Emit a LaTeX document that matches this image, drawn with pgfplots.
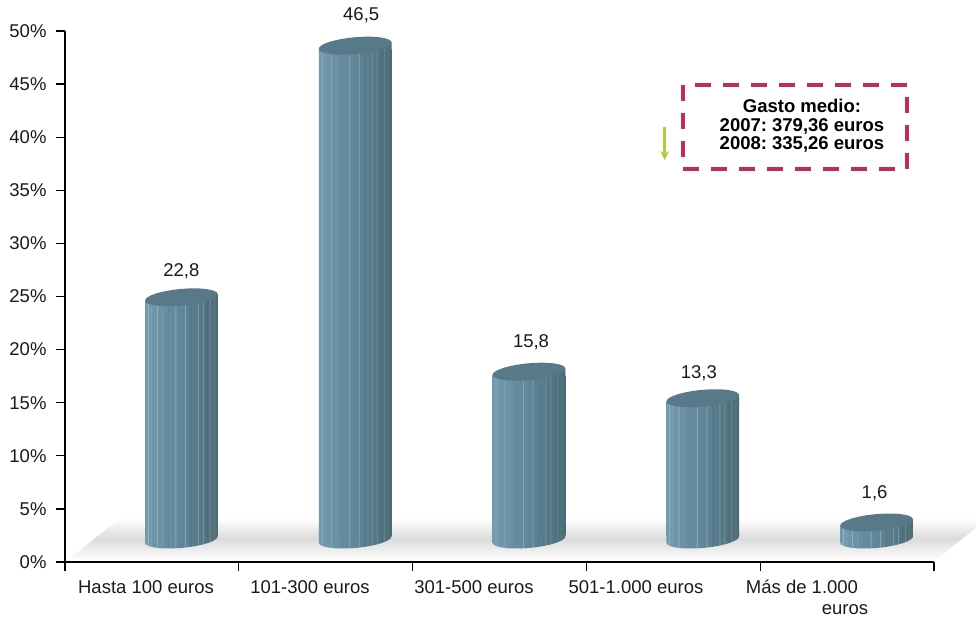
\documentclass[border=0pt]{standalone}
\usepackage{fontspec}
\setmainfont{Liberation Sans}
\usepackage{pgfplots}
\usepackage{pgfplotstable}
\usetikzlibrary{arrows.meta}
\pgfplotsset{compat=1.18}

\definecolor{txt}{HTML}{1A1A1A}
\definecolor{cyltopc}{HTML}{587A88}
\definecolor{cylL}{HTML}{7299AD}
\definecolor{cylM}{HTML}{5F8799}
\definecolor{cylR}{HTML}{4B6B74}
\definecolor{boxc}{HTML}{C22A60}
\definecolor{arrowc}{HTML}{A9CE3E}

\tikzset{cylside/.style={left color=cylL,right color=cylR,middle color=cylM,draw=none}}

% ends of the cylinders, 1pt = 1px of the reference
\pgfdeclareplotmark{cylbottom}{%
  \path[cylside] (-36.35pt,-3.3pt)
    .. controls (-35.93pt,-7.92pt) and (-19.32pt,-10.19pt) .. (0.76pt,-8.37pt)
    .. controls (20.84pt,-6.55pt) and (36.77pt,-1.32pt) .. (36.35pt,3.3pt)
    -- (36.35pt,8pt) -- (-36.35pt,8pt) -- cycle;
}
\pgfdeclareplotmark{cyljoin}{%
  \path[cylside] (-36.35pt,-3.3pt) -- (36.35pt,3.3pt) -- (36.35pt,-7pt) -- (-36.35pt,-7pt) -- cycle;
}
\pgfdeclareplotmark{cyltop}{%
  \pgfsetfillcolor{cyltopc}%
  \pgfpathellipse{\pgfpointorigin}{\pgfpoint{36.35pt}{3.3pt}}{\pgfpoint{-0.76pt}{8.37pt}}%
  \pgfusepath{fill}%
}

\pgfplotstableread{
x   v
0.5 22.8
1.5 46.5
2.5 15.8
3.5 13.3
4.5 1.6
}\bars

% one vertical streak on every cylinder: offset from centre, drop below the centre line, tint, opacity
\newcommand{\streak}[4]{%
  \pgfmathsetmacro{\streakextra}{#2/10.62}
  \addplot[ybar,bar width=0.9pt,bar shift=0pt,draw=none,fill=#3,fill opacity=#4,
    xshift=\fpeval{29.5+#1}pt,yshift=\fpeval{22.5-#2}pt]
    table[x=x,y expr=\thisrow{v}+\streakextra] {\bars};
}

\newcommand{\vlabel}[5]{%
  \node[text=txt,font=\fontsize{18.5}{20}\selectfont,anchor=center]
    at (axis cs:#1,#2) [xshift=#4pt,yshift=#5pt] {#3};
}

\begin{document}
\frenchspacing
\begin{tikzpicture}
\begin{scope}[x=1pt,y=1pt]
  \useasboundingbox (-65,-56) rectangle (911,562);
  % floor
  \path[top color=white,bottom color=white,middle color=black!14,draw=none]
    (3,2) -- (55,44) -- (911,44) -- (911,34) -- (870,2) -- cycle;
\end{scope}
\begin{axis}[
  at={(0pt,0pt)},anchor=origin,
  scale only axis,width=869pt,height=531pt,
  xmin=0,xmax=5,ymin=0,ymax=50,
  clip=false,clip mode=individual,
  axis x line=bottom,axis y line=left,
  axis line style={-,line width=1.3pt,black},
  xtick={0,1,2,3,4,5},xticklabels={},
  ytick={0,5,...,50},
  yticklabel={\pgfmathprintnumber{\tick}\%},
  /pgf/number format/assume math mode=true,
  tick style={black,line width=1.3pt},
  tick align=outside,
  major tick length=9pt,
  y tick label style={text=txt,font=\fontsize{18.5}{20}\selectfont,xshift=-6pt},
]

% bottom ends
\addplot[only marks,mark=cylbottom,xshift=29.5pt,yshift=22.5pt] table[x=x,y expr=0] {\bars};
% side, one plot per bar so that each has its own gradient
\pgfplotsinvokeforeach{0.5,1.5,2.5,3.5,4.5}{
  \addplot[ybar,bar width=72.7pt,bar shift=0pt,cylside,xshift=29.5pt,yshift=26.5pt,
    restrict x to domain=#1:#1]
    table[x=x,y expr=\thisrow{v}-0.75] {\bars};
}
\addplot[only marks,mark=cyljoin,xshift=29.5pt,yshift=22.5pt] table[x=x,y=v] {\bars};

% streaks
\streak{-33}{6.6}{white}{0.28}
\streak{-30}{7.5}{white}{0.10}
\streak{-24}{8.5}{white}{0.25}
\streak{-19}{8.7}{white}{0.08}
\streak{-13}{8.8}{black}{0.05}
\streak{-5.5}{8.8}{white}{0.25}
\streak{4}{7.9}{white}{0.25}
\streak{10}{7}{black}{0.08}
\streak{17}{5.9}{white}{0.22}
\streak{22}{4.7}{white}{0.20}
\streak{26}{3.5}{black}{0.06}
\streak{29}{2.5}{white}{0.16}
\streak{33}{0.8}{white}{0.08}

% top ends
\addplot[only marks,mark=cyltop,xshift=29.5pt,yshift=22.5pt] table[x=x,y=v] {\bars};

% value labels
\vlabel{0.5}{22.8}{22,8}{29.5}{49}
\vlabel{1.5}{46.5}{46,5}{35.5}{53}
\vlabel{2.5}{15.8}{15,8}{31.5}{52}
\vlabel{3.5}{13.3}{13,3}{25.5}{48}
\vlabel{4.5}{1.6}{1,6}{27.5}{52}

% category labels
\node[text=txt,font=\fontsize{18.5}{20}\selectfont] at (axis cs:0,0) [xshift=81pt,yshift=-25pt] {Hasta 100 euros};
\node[text=txt,font=\fontsize{18.5}{20}\selectfont] at (axis cs:0,0) [xshift=245pt,yshift=-25pt] {101-300 euros};
\node[text=txt,font=\fontsize{18.5}{20}\selectfont] at (axis cs:0,0) [xshift=409pt,yshift=-25pt] {301-500 euros};
\node[text=txt,font=\fontsize{18.5}{20}\selectfont] at (axis cs:0,0) [xshift=571pt,yshift=-25pt] {501-1.000 euros};
\node[text=txt,font=\fontsize{18.5}{20}\selectfont] at (axis cs:0,0) [xshift=737pt,yshift=-25pt] {Más de 1.000};
\node[text=txt,font=\fontsize{18.5}{20}\selectfont] at (axis cs:0,0) [xshift=780pt,yshift=-48pt] {euros};
\end{axis}

\begin{scope}[x=1pt,y=1pt]
  % note box
  \draw[boxc,line width=3.2pt,dash pattern=on 16pt off 12pt,dash phase=16pt]
    (618,477) -- (842,477) -- (842,393) -- (618,393) -- cycle;
  \node[align=center,text=black,font=\fontsize{18.5}{18.5}\selectfont\bfseries] at (737,436)
    {Gasto medio:\\2007: 379,36 euros\\2008: 335,26 euros};
  % green arrow
  \draw[arrowc,line width=2.6pt,-{Stealth[length=9pt,width=9pt]}] (599.7,435) -- (599.7,402);
\end{scope}
\end{tikzpicture}
\end{document}
